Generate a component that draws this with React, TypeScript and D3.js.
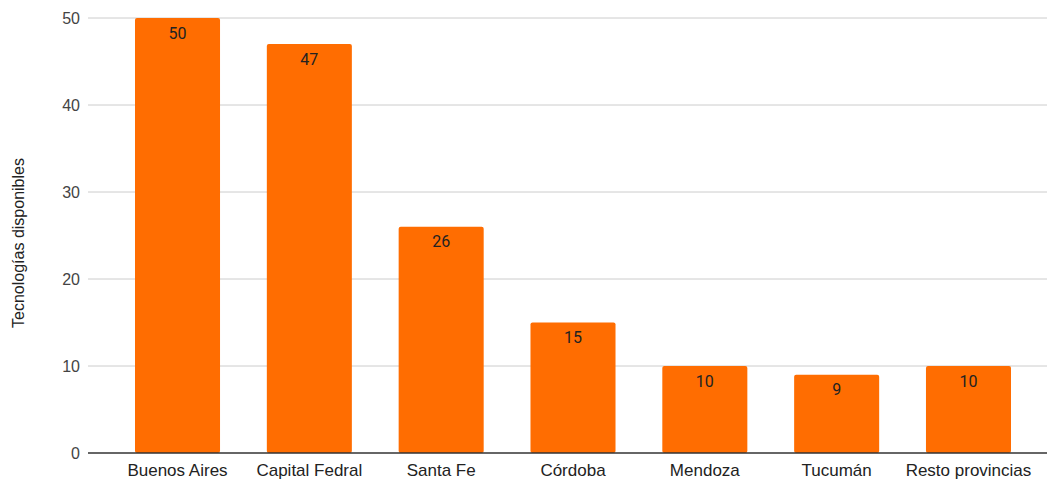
import React from "react";
import * as d3 from "d3";

const categories = ["Buenos Aires", "Capital Fedral", "Santa Fe", "Córdoba", "Mendoza", "Tucumán", "Resto provincias"];
const values = [50, 47, 26, 15, 10, 9, 10];
const yTicks = [0, 10, 20, 30, 40, 50];
const yTitle = "Tecnologías disponibles";

export default function App() {
  const W = 1047, H = 481;
  const y = d3.scaleLinear().domain([0, 50]).range([453, 18]);
  const x = d3.scaleBand<string>().domain(categories).range([111.6, 1034.4]).paddingInner(0.355).paddingOuter(0.1775);
  const fontAxis = "Arial, 'Liberation Sans', sans-serif";
  return (
    <svg width={W} height={H} style={{ position: "absolute", left: 0, top: 0 }}>
      <rect width={W} height={H} fill="#fff" />
      {yTicks.map((t) => (
        <g key={t}>
          {t !== 0 && <line x1={88} x2={1047} y1={y(t)} y2={y(t)} stroke="#cccccc" strokeWidth={1} />}
          <text x={80} y={y(t)} dy="0.35em" textAnchor="end" fontFamily={fontAxis} fontSize={16} fill="#444">{t}</text>
        </g>
      ))}
      {categories.map((c, i) => (
        <g key={c}>
          <rect x={x(c)} y={y(values[i])} width={x.bandwidth()} height={y(0) - y(values[i])} fill="#ff6d01" rx={2} />
          <text x={(x(c) as number) + x.bandwidth() / 2} y={y(values[i]) + 15} dy="0.35em" textAnchor="middle" fontFamily="Roboto, sans-serif" fontSize={16} fill="#222">{values[i]}</text>
          <text x={(x(c) as number) + x.bandwidth() / 2} y={470} dy="0.35em" textAnchor="middle" fontFamily={fontAxis} fontSize={17} fill="#222">{c}</text>
        </g>
      ))}
      <line x1={88} x2={1047} y1={y(0)} y2={y(0)} stroke="#333" strokeWidth={1.5} />
      <text transform={`translate(18,243) rotate(-90)`} textAnchor="middle" dy="0.35em" fontFamily={fontAxis} fontSize={16} fill="#222">{yTitle}</text>
    </svg>
  );
}
